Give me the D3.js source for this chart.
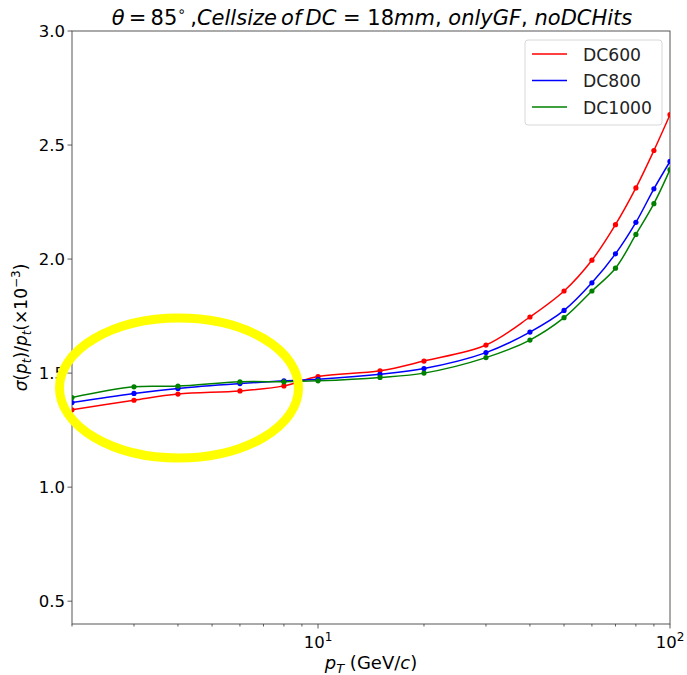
<!DOCTYPE html>
<html><head><meta charset="utf-8">
<script src="https://cdn.jsdelivr.net/npm/d3@7"></script>
<style>
body{margin:0;background:#fff;}
text{font-family:"DejaVu Sans",sans-serif;}
</style></head>
<body><svg id="c" width="687" height="675"></svg>
<script>
const pt = [2,3,4,6,8,10,15,20,30,40,50,60,70,80,90,100];
const dc600  = [1.339,1.381,1.408,1.422,1.444,1.485,1.510,1.553,1.623,1.746,1.860,1.995,2.151,2.312,2.476,2.633];
const dc800  = [1.371,1.411,1.433,1.454,1.466,1.473,1.495,1.520,1.590,1.680,1.775,1.896,2.023,2.161,2.308,2.428];
const dc1000 = [1.393,1.440,1.443,1.462,1.462,1.466,1.481,1.500,1.568,1.645,1.743,1.860,1.960,2.108,2.243,2.392];
const seriesNames = ["DC600","DC800","DC1000"];
const seriesColors = ["#ff0000","#0000ff","#008000"];
const yTicks = [0.5,1.0,1.5,2.0,2.5,3.0];

const svg = d3.select("#c");
const L=72,R=670,T=31,B=624;
const x = d3.scaleLog().domain([2,100]).range([L,R]);
const y = d3.scaleLinear().domain([0.4,3.0]).range([B,T]);

// axes
const ax = svg.append("g").attr("transform",`translate(0,${B})`);
const minor = [];
for(let d=1;d<=10;d*=10) for(let k=2;k<=9;k++){const v=k*d; if(v>=2&&v<=100&&v!==10&&v!==100) minor.push(v);}
ax.selectAll("line.mi").data(minor).join("line").attr("x1",d=>x(d)).attr("x2",d=>x(d)).attr("y1",0).attr("y2",2.5).attr("stroke","#333").attr("stroke-width",0.8);
ax.selectAll("line.ma").data([10,100]).join("line").attr("x1",d=>x(d)).attr("x2",d=>x(d)).attr("y1",0).attr("y2",4.5).attr("stroke","#333").attr("stroke-width",0.8);
const xl = ax.selectAll("text.xt").data([10,100]).join("text").attr("x",d=>x(d)).attr("y",24).attr("text-anchor","middle").attr("font-size",16.5).attr("fill","#000");
xl.append("tspan").text("10");
xl.append("tspan").attr("dy",-7).attr("font-size",12).text(d=>d===10?"1":"2");

const ay = svg.append("g");
ay.selectAll("line").data(yTicks).join("line").attr("x1",L-4.5).attr("x2",L).attr("y1",d=>y(d)).attr("y2",d=>y(d)).attr("stroke","#333").attr("stroke-width",0.8);
ay.selectAll("text").data(yTicks).join("text").attr("x",L-7).attr("y",d=>y(d)+6).attr("text-anchor","end").attr("font-size",16.5).attr("fill","#000").text(d=>d.toFixed(1));

// frame
svg.append("rect").attr("x",L).attr("y",T).attr("width",R-L).attr("height",B-T).attr("fill","none").attr("stroke","#444").attr("stroke-width",0.9);

// lines
const all=[dc600,dc800,dc1000];
const line = d3.line().x((d,i)=>x(pt[i])).y(d=>y(d)).curve(d3.curveCatmullRom.alpha(0.5));
svg.append("clipPath").attr("id","cp").append("rect").attr("x",L).attr("y",T).attr("width",R-L).attr("height",B-T);
const g = svg.append("g").attr("clip-path","url(#cp)");
all.forEach((s,k)=>{
  g.append("path").datum(s).attr("d",line).attr("fill","none").attr("stroke",seriesColors[k]).attr("stroke-width",1.5);
});
all.forEach((s,k)=>{
  g.selectAll(null).data(s).join("circle").attr("cx",(d,i)=>x(pt[i])).attr("cy",d=>y(d)).attr("r",2.6).attr("fill",seriesColors[k]);
});

// yellow annotation ellipse
svg.append("ellipse").attr("cx",179).attr("cy",388).attr("rx",119.5).attr("ry",70).attr("fill","none").attr("stroke","#ffff00").attr("stroke-width",9);

// legend
const lg = svg.append("g");
lg.append("rect").attr("x",525).attr("y",40).attr("width",137).attr("height",85).attr("rx",3).attr("fill","#fff").attr("fill-opacity",0.8).attr("stroke","#d8d8d8");
seriesNames.forEach((n,k)=>{
  const yy = 54 + k*26.5;
  lg.append("line").attr("x1",532).attr("x2",567).attr("y1",yy).attr("y2",yy).attr("stroke",seriesColors[k]).attr("stroke-width",1.5);
  lg.append("text").attr("x",583).attr("y",yy+6.5).attr("font-size",17.2).attr("fill","#222").text(n);
});

// title
const tt = svg.append("text").attr("x",372).attr("y",25).attr("text-anchor","middle").attr("font-size",21).attr("fill","#000");
tt.append("tspan").attr("font-style","italic").text("θ");
tt.append("tspan").text("\u2009=\u200985");
tt.append("tspan").attr("dy",-9).attr("font-size",14).text("∘");
tt.append("tspan").attr("dy",9).text("\u2009,");
tt.append("tspan").attr("font-style","italic").text("Cellsize\u2009of\u2009DC");
tt.append("tspan").text(" = 18");
tt.append("tspan").attr("font-style","italic").text("mm");
tt.append("tspan").text(", ");
tt.append("tspan").attr("font-style","italic").text("onlyGF");
tt.append("tspan").text(", ");
tt.append("tspan").attr("font-style","italic").text("noDCHits");

// x label
const xt = svg.append("text").attr("x",371).attr("y",669).attr("text-anchor","middle").attr("font-size",18).attr("fill","#000");
xt.append("tspan").attr("font-style","italic").text("p");
xt.append("tspan").attr("font-style","italic").attr("font-size",13).attr("dy",4).text("T");
xt.append("tspan").attr("dy",-4).text(" (GeV/");
xt.append("tspan").attr("font-style","italic").text("c");
xt.append("tspan").text(")");

// y label
const yt = svg.append("text").attr("transform",`translate(27,${(T+B)/2}) rotate(-90)`).attr("text-anchor","middle").attr("font-size",17).attr("fill","#000");
yt.append("tspan").attr("font-style","italic").text("σ");
yt.append("tspan").text("(");
yt.append("tspan").attr("font-style","italic").text("p");
yt.append("tspan").attr("font-style","italic").attr("font-size",12).attr("dy",4).text("t");
yt.append("tspan").attr("dy",-4).text(")/");
yt.append("tspan").attr("font-style","italic").text("p");
yt.append("tspan").attr("font-style","italic").attr("font-size",12).attr("dy",4).text("t");
yt.append("tspan").attr("dy",-4).text("(×10");
yt.append("tspan").attr("font-size",12).attr("dy",-7).text("−3");
yt.append("tspan").attr("dy",7).text(")");
</script></body></html>
